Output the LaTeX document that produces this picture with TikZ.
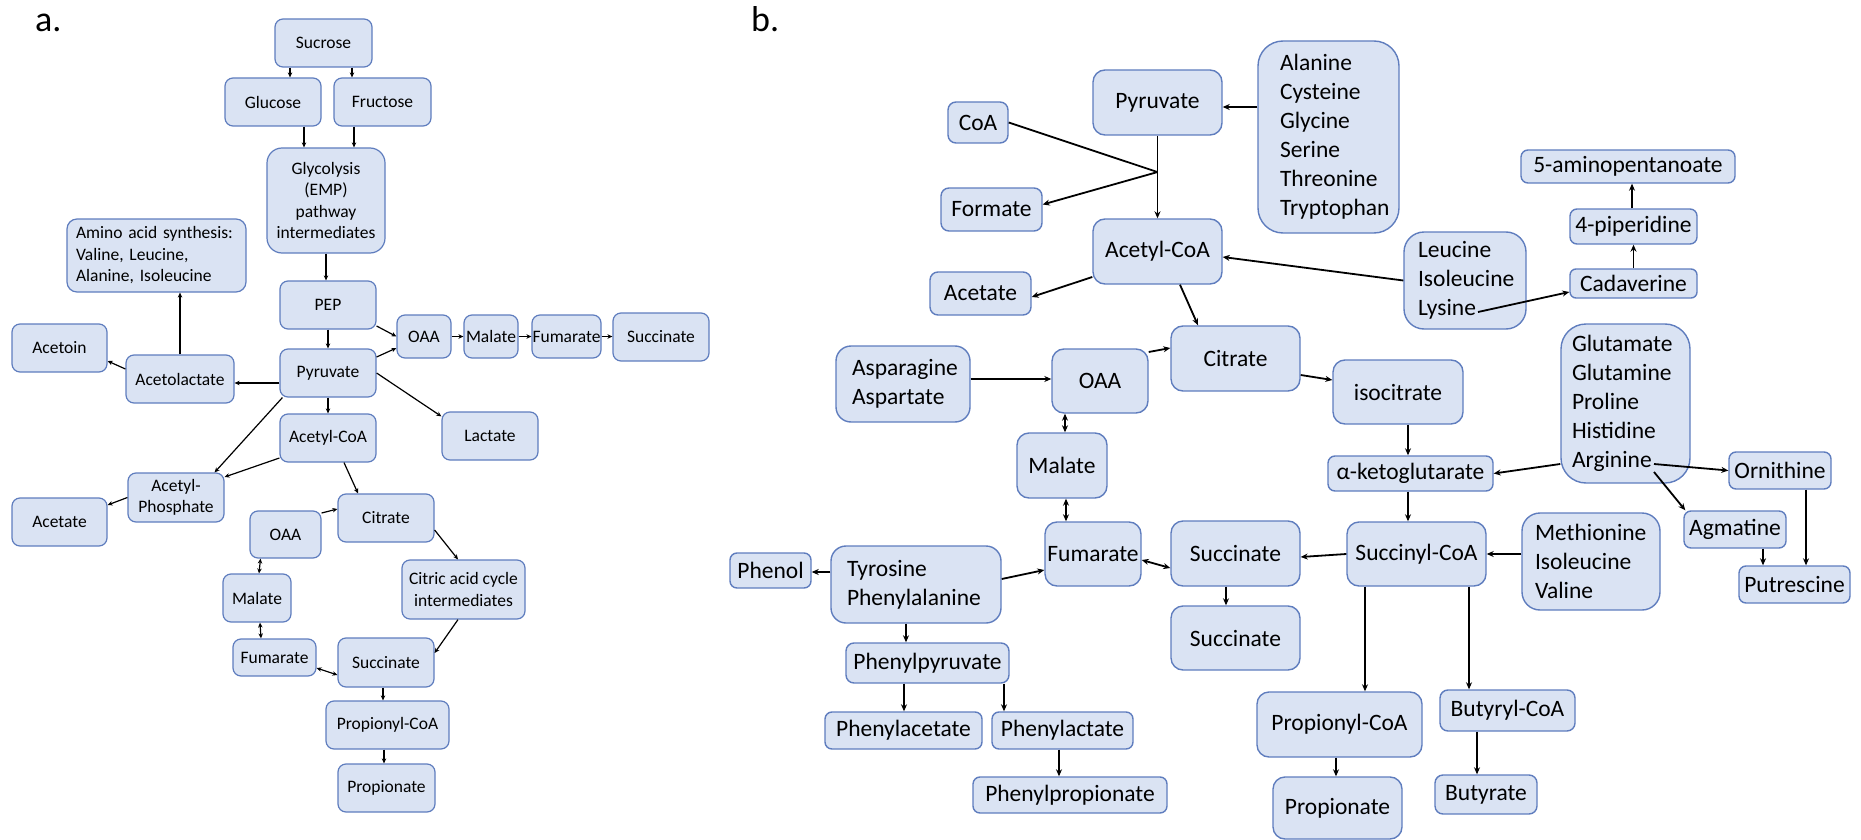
\documentclass[tikz,border=0pt]{standalone}
\usepackage{fontspec}
\setmainfont{Carlito}
\usetikzlibrary{arrows.meta,calc}
\definecolor{boxfill}{RGB}{218,227,243}
\definecolor{boxline}{RGB}{95,125,190}
\begin{document}
\begin{tikzpicture}[x=1pt,y=-1pt,
  boxa/.style={draw=boxline, fill=boxfill, line width=1.2pt, rounded corners=8pt, inner sep=0pt, font=\fontsize{17.5}{21.5}\selectfont, align=center},
  boxb/.style={draw=boxline, fill=boxfill, line width=1.4pt, rounded corners=12pt, inner sep=0pt, font=\fontsize{23.5}{29}\selectfont, align=center},
  sz/.style 2 args={minimum width=#1pt, minimum height=#2pt},
  arra/.style={-{Stealth[length=5pt,width=4.5pt]}, line width=1.2pt},
  dba/.style={{Stealth[length=5pt,width=4.5pt]}-{Stealth[length=5pt,width=4.5pt]}, line width=1.2pt},
  arrb/.style={-{Stealth[length=7pt,width=6pt]}, line width=1.8pt},
  dbb/.style={{Stealth[length=7pt,width=6pt]}-{Stealth[length=7pt,width=6pt]}, line width=1.8pt},
  panel/.style={font=\fontsize{36}{40}\selectfont, inner sep=0pt, anchor=base west}
]
\useasboundingbox (0,0) rectangle (1861,840);

% ---------------- panel a ----------------
\node[panel] (la) at (35,32) {a.};
\node[boxa, sz={97}{48}] (suc) at (323.5,43) {Sucrose};
\node[boxa, sz={96}{48}] (glu) at (273,102) {Glucose};
\node[boxa, sz={97}{48}] (fru) at (382.5,102) {Fructose};
\node[boxa, sz={118}{105}, rounded corners=15pt] (gly) at (326,200.5) {Glycolysis\\(EMP)\\pathway\\intermediates};
\node[boxa, sz={179}{73}, rounded corners=10pt, text width=161pt, align=left] (aas) at (156.5,255.5) {Amino~acid~synthesis:\\Valine,~Leucine,\\Alanine,~Isoleucine};
\node[boxa, sz={96}{48}] (pep) at (328,305) {PEP};
\node[boxa, sz={96}{48}] (pyr) at (328,373) {Pyruvate};
\node[boxa, sz={95}{48}] (acn) at (59.5,348) {Acetoin};
\node[boxa, sz={108}{48}] (acl) at (180,379) {Acetolactate};
\node[boxa, sz={96}{48}] (acoa) at (328,438) {Acetyl-CoA};
\node[boxa, sz={96}{49}] (acp) at (176,497.5) {Acetyl-\\Phosphate};
\node[boxa, sz={95}{48}] (act) at (59.5,522) {Acetate};
\node[boxa, sz={54}{43}] (oaa1) at (424,336.5) {OAA};
\node[boxa, sz={54}{43}] (mal1) at (491,336.5) {Malate};
\node[boxa, sz={69}{43}] (fum1) at (566.5,336.5) {Fumarate};
\node[boxa, sz={96}{48}] (suc1) at (661,337) {Succinate};
\node[boxa, sz={96}{48}] (lac) at (490,436) {Lactate};
\node[boxa, sz={71}{47}] (oaa2) at (285.5,534.5) {OAA};
\node[boxa, sz={96}{48}] (cit) at (386,518) {Citrate};
\node[boxa, sz={123}{59}] (cac) at (463.5,589.5) {Citric acid cycle\\intermediates};
\node[boxa, sz={68}{48}] (mal2) at (257,598) {Malate};
\node[boxa, sz={83}{37}] (fum2) at (274.5,657.5) {Fumarate};
\node[boxa, sz={96}{49}] (suc2) at (386,662.5) {Succinate};
\node[boxa, sz={123}{48}] (pcoa) at (387.5,725) {Propionyl-CoA};
\node[boxa, sz={97}{48}] (prop) at (386.5,788) {Propionate};

\draw[arra] ([xshift=-33.5pt]suc.south) -- ([xshift=-33.5pt]suc.south |- glu.north);
\draw[arra] ([xshift=28.5pt]suc.south) -- ([xshift=28.5pt]suc.south |- fru.north);
\draw[arra] ([xshift=31pt]glu.south) -- ([xshift=31pt]glu.south |- gly.north);
\draw[arra] ([xshift=-28.5pt]fru.south) -- ([xshift=-28.5pt]fru.south |- gly.north);
\draw[arra] (gly.south) -- (gly.south |- pep.north);
\draw[arra] (pep.south) -- (pyr.north);
\draw[arra] ([yshift=-21pt]pep.east) -- (oaa1.west);
\draw[arra] ([yshift=16pt]pyr.east) -- ([yshift=-11.5pt]oaa1.west);
\draw[arra] (oaa1.east) -- (mal1.west);
\draw[arra] (mal1.east) -- (fum1.west);
\draw[arra] (fum1.east) -- (fum1.east -| suc1.west);
\draw[arra] (pyr.east) -- ([yshift=-5pt]lac.north west);
\draw[arra] (pyr.south) -- (acoa.north);
\draw[arra, line width=1.8pt] ([yshift=-10pt]pyr.west) -- ([yshift=-10pt]pyr.west -| acl.east);
\draw[arra] (acl.north) -- (acl.north |- aas.south);
\draw[arra] ([yshift=10pt]acl.west) -- ([yshift=-13pt]acn.east);
\draw[arra] ([xshift=3pt]pyr.south west) -- ([xshift=-10pt]acp.north east);
\draw[arra] ([yshift=-20pt]acoa.west) -- ([yshift=20.5pt]acp.east);
\draw[arra] (acp.west) -- ([yshift=17pt]act.east);
\draw[arra] ([xshift=16pt]acoa.south) -- ([xshift=-28pt]cit.north);
\draw[arra] ([yshift=21.5pt]oaa2.east) -- ([yshift=9pt]cit.west);
\draw[dba] ([xshift=-25pt]oaa2.south) -- ([xshift=2pt]mal2.north);
\draw[dba] ([xshift=3pt]mal2.south) -- ([xshift=-13.5pt]fum2.north);
\draw[dba] ([yshift=-10.5pt]fum2.east) -- ([yshift=-12.5pt]suc2.west);
\draw[arra] ([yshift=-12pt]cit.east) -- ([xshift=-5.5pt]cac.north);
\draw[arra] ([xshift=-5.5pt]cac.south) -- ([yshift=9.5pt]suc2.east);
\draw[arra] ([xshift=-3pt]suc2.south) -- ([xshift=-3pt]suc2.south |- pcoa.north);
\draw[arra] ([xshift=-3.5pt]pcoa.south) -- ([xshift=-3.5pt]pcoa.south |- prop.north);

% ---------------- panel b ----------------
\node[panel] (lb) at (751,32) {b.};
\node[boxb, sz={129}{65}] (bpyr) at (1157.5,102.5) {Pyruvate};
\node[boxb, sz={60}{41}, rounded corners=8pt] (bcoa) at (978,122.5) {CoA};
\node[boxb, sz={101}{43}, rounded corners=8pt] (bform) at (991.5,209.5) {Formate};
\node[boxb, sz={129}{65}] (bacoa) at (1157.5,251.5) {Acetyl-CoA};
\node[boxb, sz={101}{43}, rounded corners=8pt] (bacet) at (980.5,293.5) {Acetate};
\node[boxb, sz={141}{192}, rounded corners=25pt, text width=97pt, align=left] (baa) at (1328.5,137) {Alanine\\Cysteine\\Glycine\\Serine\\Threonine\\Tryptophan};
\node[boxb, sz={214}{33}, rounded corners=7pt] (b5am) at (1628,166.5) {5-aminopentanoate};
\node[boxb, sz={127}{35}, rounded corners=7pt] (b4pip) at (1633.5,226.5) {4-piperidine};
\node[boxb, sz={127}{29}, rounded corners=6pt] (bcad) at (1633.5,283.5) {Cadaverine};
\node[boxb, sz={122}{97}, rounded corners=20pt, text width=94pt, align=left] (bleu) at (1465,280.5) {Leucine\\Isoleucine\\Lysine};
\node[boxb, sz={134}{76}, rounded corners=15pt, text width=102pt, align=left] (basn) at (903,384) {Asparagine\\Aspartate};
\node[boxb, sz={96}{64}] (boaa) at (1100,381) {OAA};
\node[boxb, sz={129}{65}] (bcit) at (1235.5,358.5) {Citrate};
\node[boxb, sz={130}{64}] (biso) at (1398,392) {isocitrate};
\node[boxb, sz={165}{35}, rounded corners=7pt] (bakg) at (1410.5,473.5) {α-ketoglutarate};
\node[boxb, sz={129}{159}, rounded corners=25pt, text width=107pt, align=left] (bglu) at (1625.5,403.5) {Glutamate\\Glutamine\\Proline\\Histidine\\Arginine};
\node[boxb, sz={102}{37}, rounded corners=7pt] (born) at (1780,470.5) {Ornithine};
\node[boxb, sz={102}{37}, rounded corners=7pt] (bagm) at (1735,529.5) {Agmatine};
\node[boxb, sz={111}{37}, rounded corners=7pt] (bput) at (1794.5,584.5) {Putrescine};
\node[boxb, sz={90}{65}] (bmal) at (1062,465.5) {Malate};
\node[boxb, sz={96}{64}] (bfum) at (1093,554) {Fumarate};
\node[boxb, sz={129}{65}] (bsuc) at (1235.5,553.5) {Succinate};
\node[boxb, sz={139}{64}] (bscoa) at (1416.5,554) {Succinyl-CoA};
\node[boxb, sz={138}{97}, rounded corners=18pt, text width=112pt, align=left] (bmet) at (1591,561.5) {Methionine\\Isoleucine\\Valine};
\node[boxb, sz={81}{35}, rounded corners=7pt] (bphe) at (770.5,570.5) {Phenol};
\node[boxb, sz={170}{77}, rounded corners=15pt, text width=138pt, align=left] (btyr) at (916,584.5) {Tyrosine\\Phenylalanine};
\node[boxb, sz={163}{40}, rounded corners=8pt] (bppy) at (927.5,663) {Phenylpyruvate};
\node[boxb, sz={157}{37}, rounded corners=7pt] (bpac) at (903.5,730.5) {Phenylacetate};
\node[boxb, sz={141}{37}, rounded corners=7pt] (bplac) at (1062.5,730.5) {Phenylactate};
\node[boxb, sz={194}{36}, rounded corners=7pt] (bppr) at (1070,795) {Phenylpropionate};
\node[boxb, sz={129}{64}] (bsuc2) at (1235.5,638) {Succinate};
\node[boxb, sz={165}{65}] (bpcoa) at (1339.5,724.5) {Propionyl-CoA};
\node[boxb, sz={129}{62}] (bprop) at (1337.5,808) {Propionate};
\node[boxb, sz={135}{41}, rounded corners=8pt] (bbcoa) at (1507.5,710.5) {Butyryl-CoA};
\node[boxb, sz={102}{39}, rounded corners=8pt] (bbut) at (1486,794.5) {Butyrate};

\coordinate (J) at ($(bpyr.south)!0.44!(bacoa.north)$);
\draw[arrb] (bpyr.south) -- (bacoa.north);
\draw[line width=1.8pt] (bcoa.east) -- (J);
\draw[arrb] (J) -- ([yshift=5pt]bform.east);
\draw[arrb] ([yshift=30pt]baa.west) -- ([yshift=30pt]baa.west -| bpyr.east);
\draw[arrb] (bleu.west) -- ([yshift=-5.5pt]bacoa.east);
\draw[arrb] ([xshift=13pt,yshift=-31.5pt]bleu.center) -- ([yshift=-8.5pt]bcad.west);
\draw[arrb] (bcad.north) -- (b4pip.south);
\draw[arrb] ([xshift=-1.5pt]b4pip.north) -- ([xshift=-1.5pt]b4pip.north |- b5am.south);
\draw[arrb] ([yshift=-25.5pt]bacoa.west) -- ([yshift=-3.5pt]bacet.east);
\draw[arrb] ([xshift=22.5pt]bacoa.south) -- ([xshift=-37.5pt]bcit.north);
\draw[arrb] ([yshift=5pt]basn.east) -- ([yshift=5pt]basn.east -| boaa.west);
\draw[arrb] ([yshift=29pt]boaa.east) -- ([yshift=10.5pt]bcit.west);
\draw[arrb] ([yshift=-16.5pt]bcit.east) -- ([yshift=12pt]biso.west);
\draw[arrb] ([xshift=10pt]biso.south) -- ([xshift=10pt]biso.south |- bakg.north);
\draw[arrb] ([xshift=-2.5pt]bakg.south) -- ([xshift=-2.5pt]bakg.south |- bscoa.north);
\draw[arrb] ([yshift=-60.5pt]bglu.west) -- (bakg.east);
\draw[arrb] ([xshift=28.5pt,yshift=-60.5pt]bglu.center) -- (born.west);
\draw[arrb] ([xshift=28.5pt,yshift=-68.5pt]bglu.center) -- ([xshift=2pt]bagm.north west);
\draw[arrb] ([xshift=28pt]bagm.south) -- ([xshift=28pt]bagm.south |- bput.north);
\draw[arrb] ([xshift=26pt]born.south) -- ([xshift=26pt]born.south |- bput.north);
\draw[arrb] ([yshift=7.5pt]bmet.west) -- ([yshift=7.5pt]bmet.west -| bscoa.east);
\draw[arrb] (bscoa.west) -- ([yshift=-3.5pt]bsuc.east);
\draw[dbb] ([yshift=-6pt]bfum.east) -- ([yshift=-14.5pt]bsuc.west);
\draw[dbb] ([xshift=-35pt]boaa.south) -- ([xshift=3pt]bmal.north);
\draw[dbb] ([xshift=4pt]bmal.south) -- ([xshift=-27pt]bfum.north);
\draw[arrb] ([xshift=-9.5pt]bsuc.south) -- ([xshift=-9.5pt]bsuc.south |- bsuc2.north);
\draw[arrb] ([yshift=12.5pt]btyr.west) -- ([yshift=12.5pt]btyr.west -| bphe.east);
\draw[arrb] ([yshift=5.5pt]btyr.east) -- ([yshift=-16pt]bfum.west);
\draw[arrb] ([xshift=-10pt]btyr.south) -- ([xshift=-10pt]btyr.south |- bppy.north);
\draw[arrb] ([xshift=-23.5pt]bppy.south) -- ([xshift=-23.5pt]bppy.south |- bpac.north);
\draw[arrb] ([xshift=76.5pt]bppy.south) -- ([xshift=76.5pt]bppy.south |- bplac.north);
\draw[arrb] ([xshift=-3.5pt]bplac.south) -- ([xshift=-3.5pt]bplac.south |- bppr.north);
\draw[arrb] ([xshift=-51.5pt]bscoa.south) -- ([xshift=-51.5pt]bscoa.south |- bpcoa.north);
\draw[arrb] ([xshift=52.5pt]bscoa.south) -- ([xshift=52.5pt]bscoa.south |- bbcoa.north);
\draw[arrb] ([xshift=-3.5pt]bpcoa.south) -- ([xshift=-3.5pt]bpcoa.south |- bprop.north);
\draw[arrb] ([xshift=-30.5pt]bbcoa.south) -- ([xshift=-30.5pt]bbcoa.south |- bbut.north);
\end{tikzpicture}
\end{document}
